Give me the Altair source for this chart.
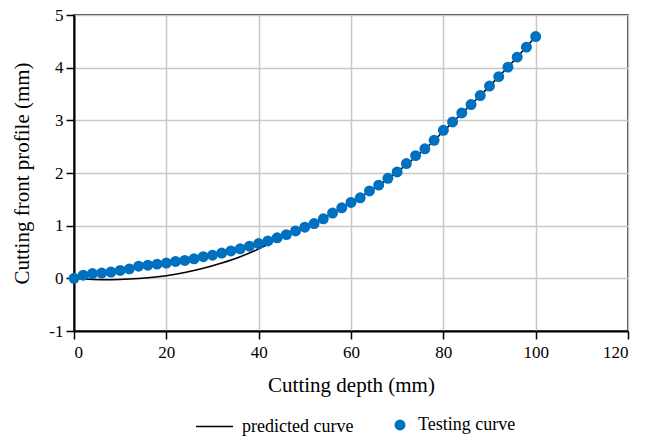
import altair as alt
import pandas as pd

# Testing curve (measured points every 2 mm)
depth = list(range(0, 101, 2))
testing = [0.00, 0.06, 0.09, 0.10, 0.12, 0.15, 0.18, 0.23, 0.25, 0.27,
           0.29, 0.32, 0.34, 0.37, 0.41, 0.44, 0.48, 0.52, 0.56, 0.61,
           0.66, 0.71, 0.77, 0.83, 0.90, 0.97, 1.04, 1.13, 1.24, 1.34,
           1.44, 1.53, 1.66, 1.77, 1.90, 2.02, 2.18, 2.33, 2.46, 2.62,
           2.81, 2.97, 3.14, 3.30, 3.47, 3.65, 3.83, 4.01, 4.20, 4.39,
           4.59]

# Predicted curve
pred_depth = [0, 4, 8, 12, 16, 20, 24, 28, 32, 36, 40, 44, 48, 52, 56, 60,
              64, 68, 72, 76, 80, 84, 88, 92, 96, 100]
predicted = [0.00, -0.02, -0.025, -0.015, 0.01, 0.05, 0.11, 0.19, 0.29, 0.41,
             0.56, 0.74, 0.90, 1.05, 1.24, 1.44, 1.65, 1.89, 2.16, 2.45,
             2.79, 3.13, 3.47, 3.83, 4.20, 4.59]

x_ticks = [0, 20, 40, 60, 80, 100, 120]
y_ticks = [-1, 0, 1, 2, 3, 4, 5]

test_df = pd.DataFrame({"depth": depth, "profile": testing, "series": "Testing curve"})
pred_df = pd.DataFrame({"depth": pred_depth, "profile": predicted, "series": "predicted curve"})

FONT = "Liberation Serif"

x_enc = alt.X(
    "depth:Q",
    scale=alt.Scale(domain=[0, 120], nice=False, zero=False),
    axis=alt.Axis(values=x_ticks, title="Cutting depth (mm)", titleX=277, titleY=60,
                  titleBaseline="alphabetic", titleAlign="center", labelPadding=5,
                  labelFont=FONT, titleFont=FONT, labelFontSize=17),
)
y_enc = alt.Y(
    "profile:Q",
    scale=alt.Scale(domain=[-1, 5], nice=False, zero=False),
    axis=alt.Axis(values=y_ticks, title="Cutting front profile (mm)", labelExpr="'' + datum.value",
                  titleX=-52, titleY=158, titleAngle=270, titleBaseline="middle",
                  titleAlign="center", labelPadding=3, labelFont=FONT, titleFont=FONT,
                  labelFontSize=17),
)

line = alt.Chart(pred_df).mark_line(strokeWidth=1.5, interpolate="monotone").encode(
    x=x_enc,
    y=y_enc,
    color=alt.Color(
        "series:N",
        scale=alt.Scale(domain=["predicted curve"], range=["black"]),
        legend=alt.Legend(title=None, orient="none", legendX=121, legendY=392,
                          symbolType="stroke", symbolSize=1369, symbolStrokeWidth=1.5,
                          labelFontSize=18, labelFont=FONT, labelOffset=8, labelColor="black"),
    ),
)

points = alt.Chart(test_df).mark_circle(size=120, opacity=1).encode(
    x=x_enc,
    y=y_enc,
    fill=alt.Fill(
        "series:N",
        scale=alt.Scale(domain=["Testing curve"], range=["#0070C0"]),
        legend=alt.Legend(title=None, orient="none", legendX=317, legendY=401,
                          symbolType="circle", symbolSize=120, symbolOpacity=1,
                          labelFontSize=18, labelFont=FONT, labelOffset=9, labelColor="black"),
    ),
)

chart = (
    alt.layer(line, points)
    .resolve_legend(color="independent", fill="independent")
    .properties(
        width=554,
        height=316,
        autosize=alt.AutoSizeParams(type="none"),
        padding={"left": 74, "top": 15, "right": 26, "bottom": 107},
        background="white",
    )
    .configure(font=FONT)
    .configure_view(stroke="black", strokeWidth=1.5)
    .configure_axis(
        labelFont=FONT,
        titleFont=FONT,
        labelFontSize=17,
        titleFontSize=21,
        labelColor="black",
        titleColor="black",
        titleFontWeight="normal",
        domainColor="black",
        domainWidth=2,
        tickColor="black",
        tickSize=8,
        tickWidth=1.5,
        gridColor="#c8c8c8",
        gridWidth=1.5,
    )
    .configure_legend(labelFont=FONT)
)

chart.save("out.html", embed_options={"renderer": "svg", "actions": False})
